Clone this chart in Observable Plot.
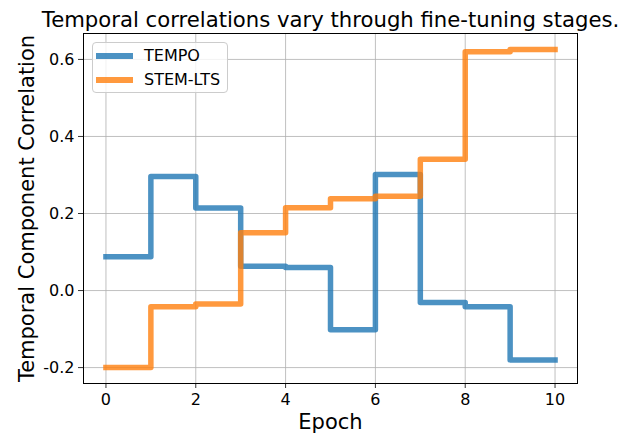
<!DOCTYPE html>
<html>
<head>
<meta charset="utf-8">
<script src="https://cdn.jsdelivr.net/npm/d3@7"></script>
<script src="https://cdn.jsdelivr.net/npm/@observablehq/plot@0.6"></script>
<style>
  body { margin: 0; background: white; font-family: "DejaVu Sans", sans-serif; }
  #wrap { position: relative; width: 632px; height: 435px; }
  #legend { position: absolute; left: 92px; top: 42px; width: 136px; height: 51px;
            border: 1px solid #cccccc; border-radius: 4px; background: rgba(255,255,255,0.8);
            box-sizing: border-box; }
  .li { position: absolute; left: 0; height: 24px; width: 100%; }
  .sw { position: absolute; left: 3px; width: 37px; height: 5.5px; opacity: 0.8; }
  .lt { position: absolute; left: 51px; font-size: 16px; line-height: 16px; color: black; white-space: nowrap; }
</style>
</head>
<body>
<div id="wrap"></div>
<script>
const epochs = [0, 1, 2, 3, 4, 5, 6, 7, 8, 9, 10];
const seriesNames = ["TEMPO", "STEM-LTS"];
const seriesColors = ["#1f77b4", "#ff7f0e"];
const tempo   = [0.088, 0.296, 0.214, 0.063, 0.060, -0.102, 0.301, -0.031, -0.042, -0.180, -0.180];
const stemLts = [-0.200, -0.042, -0.035, 0.150, 0.215, 0.238, 0.245, 0.341, 0.620, 0.626, 0.626];
const xTicks = [0, 2, 4, 6, 8, 10];
const yTicks = [-0.2, 0.0, 0.2, 0.4, 0.6];
const titleText = "Temporal correlations vary through fine-tuning stages.";
const xLabel = "Epoch";
const yLabel = "Temporal Component Correlation";

const seriesValues = [tempo, stemLts];
const data = seriesNames.flatMap((name, s) =>
  epochs.map((e, i) => ({ epoch: e, value: seriesValues[s][i], series: name })));

const allVals = seriesValues.flat();
const yMin = d3.min(allVals), yMax = d3.max(allVals);
const pad = (yMax - yMin) * 0.05;

const chart = Plot.plot({
  width: 632,
  height: 435,
  marginTop: 33,
  marginBottom: 52,
  marginLeft: 83,
  marginRight: 55,
  style: { fontFamily: "DejaVu Sans", fontSize: "16px", background: "white", overflow: "visible", color: "black" },
  x: { domain: [-0.5, 10.5] },
  y: { domain: [yMin - pad, yMax + pad] },
  color: { domain: seriesNames, range: seriesColors },
  marks: [
    Plot.gridX(xTicks, { stroke: "#b0b0b0", strokeOpacity: 1, strokeWidth: 0.8 }),
    Plot.gridY(yTicks, { stroke: "#b0b0b0", strokeOpacity: 1, strokeWidth: 0.8 }),
    Plot.line(data, {
      x: "epoch", y: "value", z: "series", stroke: "series",
      curve: "step-after", strokeWidth: 5.5, strokeOpacity: 0.8,
      strokeLinecap: "square", strokeLinejoin: "round"
    }),
    Plot.frame({ stroke: "black", strokeWidth: 1 }),
    Plot.axisX(xTicks, { tickSize: 5, tickPadding: 5, fontSize: 16, label: null, strokeWidth: 0.8 }),
    Plot.axisY(yTicks, { tickSize: 5, tickPadding: 4, fontSize: 16, label: null, strokeWidth: 0.8,
                         tickFormat: d => d.toFixed(1) }),
    Plot.text([titleText], { text: d => d, frameAnchor: "top", textAnchor: "middle", lineAnchor: "bottom", dy: -7, fontSize: 21.2, fill: "black" }),
    Plot.text([xLabel], { text: d => d, frameAnchor: "bottom", textAnchor: "middle", lineAnchor: "bottom", dy: 45, fontSize: 21, fill: "black" }),
    Plot.text([yLabel], { text: d => d, frameAnchor: "left", textAnchor: "middle", lineAnchor: "bottom", rotate: -90, dx: -50, fontSize: 21, fill: "black" })
  ]
});

const wrap = document.getElementById("wrap");
wrap.appendChild(chart);

const legend = document.createElement("div");
legend.id = "legend";
seriesNames.forEach((name, i) => {
  const item = document.createElement("div");
  item.className = "li";
  item.style.top = (i * 24) + "px";
  const sw = document.createElement("div");
  sw.className = "sw";
  sw.style.background = seriesColors[i];
  sw.style.top = "10px";
  const t = document.createElement("div");
  t.className = "lt";
  t.style.top = "5px";
  t.textContent = name;
  item.appendChild(sw);
  item.appendChild(t);
  legend.appendChild(item);
});
wrap.appendChild(legend);
</script>
</body>
</html>
